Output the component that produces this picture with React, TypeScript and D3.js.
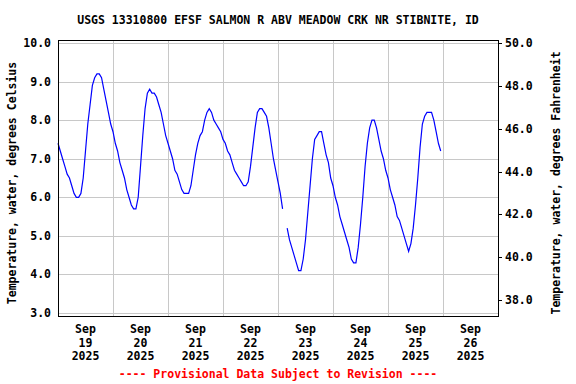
import React, { useEffect, useRef } from 'react'
import * as d3 from 'd3'

const title = 'USGS 13310800 EFSF SALMON R ABV MEADOW CRK NR STIBNITE, ID'
const leftLabel = 'Temperature, water, degrees Celsius'
const rightLabel = 'Temperature, water, degrees Fahrenheit'
const footer = '---- Provisional Data Subject to Revision ----'

// hourly readings from Sep 19 2025 00:00, null = missing
const seriesStart = new Date(2025, 8, 19, 0, 0)
const tempC: (number | null)[] = [
  // Sep 19
  7.4, 7.2, 7.0, 6.8, 6.6, 6.5, 6.3, 6.1, 6.0, 6.0, 6.1, 6.5,
  7.2, 7.9, 8.4, 8.9, 9.1, 9.2, 9.2, 9.1, 8.8, 8.5, 8.2, 7.9,
  // Sep 20
  7.7, 7.4, 7.2, 6.9, 6.7, 6.5, 6.2, 6.0, 5.8, 5.7, 5.7, 6.0,
  6.8, 7.6, 8.3, 8.7, 8.8, 8.7, 8.7, 8.6, 8.4, 8.2, 7.9, 7.6,
  // Sep 21
  7.4, 7.2, 7.0, 6.7, 6.6, 6.4, 6.2, 6.1, 6.1, 6.1, 6.3, 6.7,
  7.1, 7.4, 7.6, 7.7, 8.0, 8.2, 8.3, 8.2, 8.0, 7.9, 7.8, 7.7,
  // Sep 22
  7.5, 7.4, 7.2, 7.1, 6.9, 6.7, 6.6, 6.5, 6.4, 6.3, 6.3, 6.4,
  6.8, 7.3, 7.8, 8.2, 8.3, 8.3, 8.2, 8.1, 7.8, 7.4, 7.0, 6.7,
  // Sep 23
  6.4, 6.1, 5.7, null, 5.2, 4.9, 4.7, 4.5, 4.3, 4.1, 4.1, 4.4,
  4.9, 5.6, 6.3, 7.0, 7.5, 7.6, 7.7, 7.7, 7.4, 7.1, 6.9, 6.5,
  // Sep 24
  6.3, 6.0, 5.8, 5.5, 5.3, 5.1, 4.9, 4.7, 4.4, 4.3, 4.3, 4.7,
  5.3, 6.0, 6.8, 7.4, 7.8, 8.0, 8.0, 7.8, 7.5, 7.2, 7.0, 6.7,
  // Sep 25
  6.5, 6.2, 6.0, 5.8, 5.5, 5.4, 5.2, 5.0, 4.8, 4.6, 4.8, 5.2,
  5.8, 6.5, 7.3, 7.9, 8.1, 8.2, 8.2, 8.2, 8.0, 7.7, 7.4, 7.2,
]

const dayLabels = ['19', '20', '21', '22', '23', '24', '25', '26']
const celsiusTicks = [3, 4, 5, 6, 7, 8, 9, 10]
const fahrenheitTicks = [38, 40, 42, 44, 46, 48, 50]

const W = 576
const H = 384
const plot = { left: 58, right: 498, top: 40, bottom: 316 }
const font = '"DejaVu Sans Mono", monospace'

const App = () => {
  const svgRef = useRef<SVGSVGElement>(null)

  useEffect(() => {
    const svg = d3.select(svgRef.current)
    svg.selectAll('*').remove()

    const x = d3.scaleTime()
      .domain([new Date(2025, 8, 19), new Date(2025, 8, 27)])
      .range([plot.left, plot.right])
    const y = d3.scaleLinear()
      .domain([3, 10])
      .range([plot.bottom - 3, plot.top + 3])
    const fToY = (f: number) => y((f - 32) * 5 / 9)

    const data = tempC.map((v, i) => ({ t: d3.timeHour.offset(seriesStart, i), v }))

    // grid
    const grid = svg.append('g').attr('stroke', '#c8c8c8').attr('stroke-width', 1)
    grid.selectAll('line.h')
      .data(celsiusTicks)
      .join('line')
      .attr('x1', plot.left).attr('x2', plot.right)
      .attr('y1', d => Math.round(y(d)) + 0.5).attr('y2', d => Math.round(y(d)) + 0.5)
    const midnights = d3.timeDay.range(new Date(2025, 8, 20), new Date(2025, 8, 27))
    grid.selectAll('line.v')
      .data(midnights)
      .join('line')
      .attr('y1', plot.top).attr('y2', plot.bottom)
      .attr('x1', d => Math.round(x(d)) + 0.5).attr('x2', d => Math.round(x(d)) + 0.5)

    // data line
    const line = d3.line<{ t: Date, v: number | null }>()
      .defined(d => d.v !== null)
      .x(d => x(d.t))
      .y(d => y(d.v as number))
    svg.append('path')
      .datum(data)
      .attr('fill', 'none')
      .attr('stroke', '#0000ff')
      .attr('stroke-width', 1.2)
      .attr('d', line)

    // frame
    svg.append('rect')
      .attr('x', plot.left + 0.5).attr('y', plot.top + 0.5)
      .attr('width', plot.right - plot.left).attr('height', plot.bottom - plot.top)
      .attr('fill', 'none').attr('stroke', '#000')

    const txt = svg.append('g')
      .attr('font-family', font)
      .attr('font-weight', 'bold')
      .attr('font-size', 11.5)
      .attr('fill', '#000')

    // left ticks
    txt.selectAll('text.l')
      .data(celsiusTicks)
      .join('text')
      .attr('x', 51)
      .attr('y', d => y(d) + 4)
      .attr('text-anchor', 'end')
      .text(d => d3.format('.1f')(d))

    // right ticks
    svg.append('g').attr('stroke', '#000')
      .selectAll('line')
      .data(fahrenheitTicks)
      .join('line')
      .attr('x1', plot.right).attr('x2', plot.right + 4)
      .attr('y1', d => Math.round(fToY(d)) + 0.5).attr('y2', d => Math.round(fToY(d)) + 0.5)
    txt.selectAll('text.r')
      .data(fahrenheitTicks)
      .join('text')
      .attr('x', 505)
      .attr('y', d => fToY(d) + 4)
      .text(d => d3.format('.1f')(d))

    // x labels at noon
    const noons = dayLabels.map((_, i) => d3.timeHour.offset(new Date(2025, 8, 19 + i), 12))
    const xl = txt.selectAll('g.x')
      .data(noons)
      .join('g')
      .attr('transform', d => `translate(${x(d)},0)`)
    xl.append('text').attr('y', 333).attr('text-anchor', 'middle').text('Sep')
    xl.append('text').attr('y', 347).attr('text-anchor', 'middle').text((_, i) => dayLabels[i])
    xl.append('text').attr('y', 360).attr('text-anchor', 'middle').text('2025')

    // axis titles
    const cy = (plot.top + plot.bottom) / 2 + 5
    txt.append('text')
      .attr('transform', `translate(16,${cy}) rotate(-90)`)
      .attr('text-anchor', 'middle')
      .text(leftLabel)
    txt.append('text')
      .attr('transform', `translate(560,${cy}) rotate(-90)`)
      .attr('text-anchor', 'middle')
      .text(rightLabel)

    txt.append('text')
      .attr('x', (plot.left + plot.right) / 2)
      .attr('y', 24)
      .attr('text-anchor', 'middle')
      .text(title)

    txt.append('text')
      .attr('x', (plot.left + plot.right) / 2)
      .attr('y', 378)
      .attr('text-anchor', 'middle')
      .attr('fill', '#ff0000')
      .text(footer)
  }, [])

  return (
    <svg ref={svgRef} width={W} height={H}
      style={{ position: 'absolute', left: 0, top: 0, background: '#fff' }} />
  )
}

export default App
